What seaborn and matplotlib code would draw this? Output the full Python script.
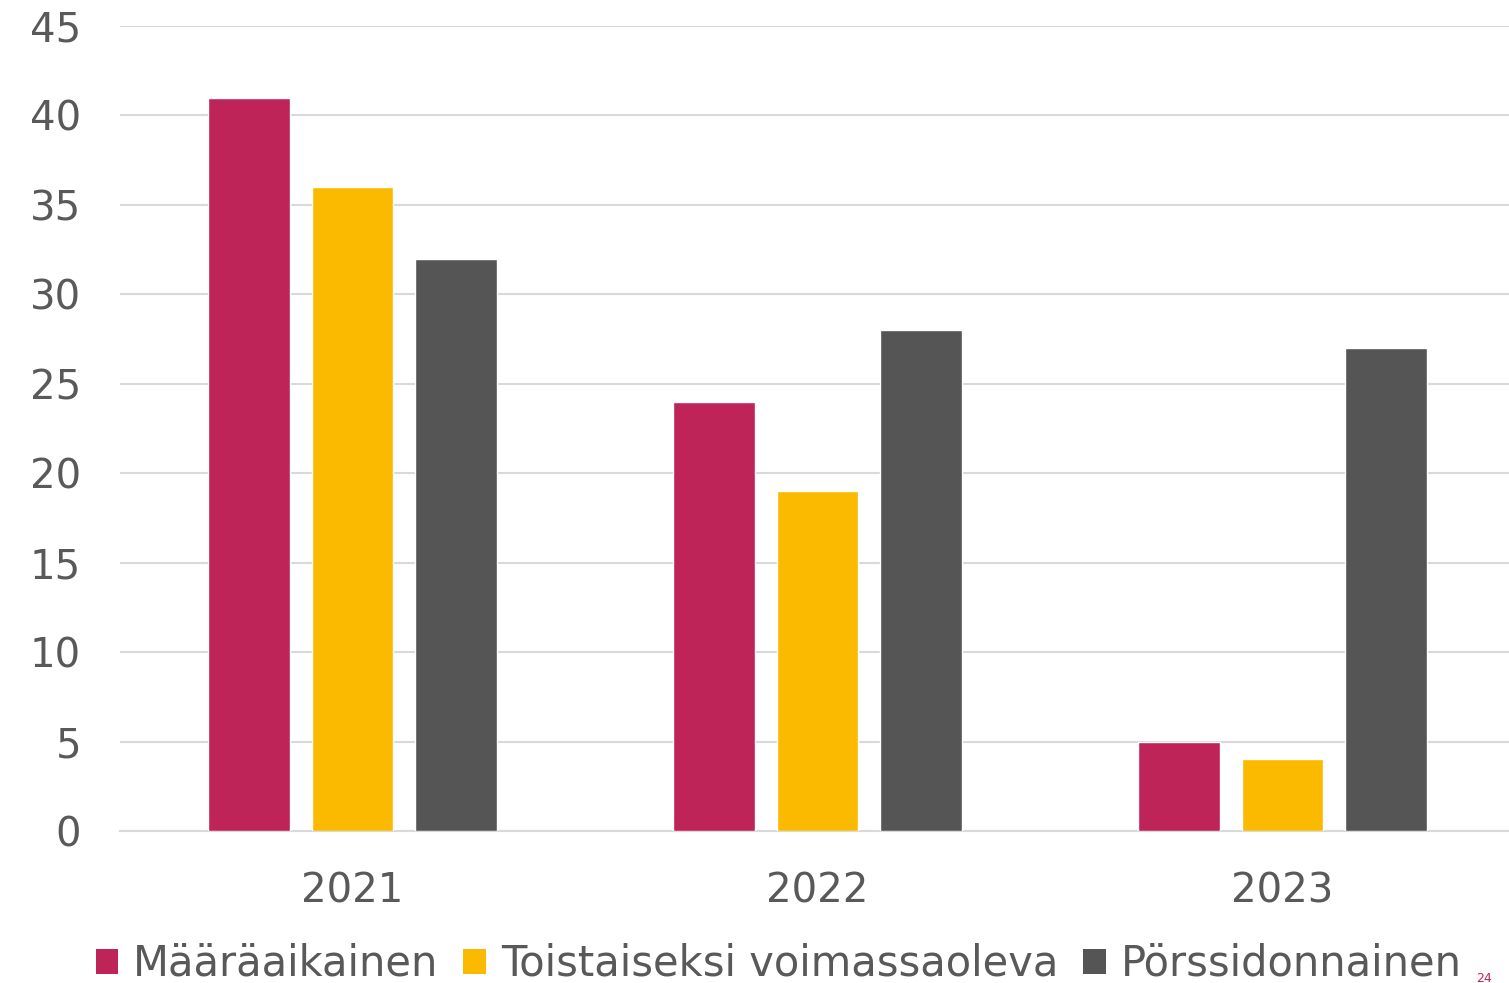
import matplotlib
matplotlib.use('Agg')
import pandas as pd
import seaborn as sns
from matplotlib import pyplot as plt
from matplotlib.patches import Patch

years = ['2021', '2022', '2023']
series = ['Määräaikainen', 'Toistaiseksi voimassaoleva', 'Pörssidonnainen']
maaraaikainen = [41, 24, 5]
toistaiseksi = [36, 19, 4]
porssi = [32, 28, 27]
colors = ['#BE2457', '#FBB900', '#555555']

df = pd.DataFrame({
    'year': years * 3,
    'type': [series[0]] * 3 + [series[1]] * 3 + [series[2]] * 3,
    'value': maaraaikainen + toistaiseksi + porssi,
})

sns.set_style('white')
plt.rcParams['font.family'] = ['DejaVu Sans']
grey = '#595959'

fig = plt.figure(figsize=(15.09, 9.83), dpi=100)
ax = fig.add_axes([120 / 1509, 152 / 983, 1395 / 1509, 805 / 983])

sns.barplot(data=df, x='year', y='value', hue='type', hue_order=series,
            palette=colors, width=0.667, gap=0.21, saturation=1,
            ax=ax, legend=False, zorder=3)

ax.set_ylim(0, 45)
ax.set_xlim(-0.5, 2.5)
ax.set_yticks(range(0, 46, 5))
ax.yaxis.grid(True, color='#d9d9d9', linewidth=1.5, zorder=0)
ax.set_axisbelow(True)
for s in ['top', 'right', 'left']:
    ax.spines[s].set_visible(False)
ax.spines['bottom'].set_color('#d9d9d9')
ax.spines['bottom'].set_linewidth(1.5)
ax.tick_params(axis='y', length=0, pad=28, labelsize=29, labelcolor=grey)
ax.tick_params(axis='x', length=0, pad=29, labelsize=29, labelcolor=grey)
ax.set_xlabel('')
ax.set_ylabel('')

handles = [Patch(facecolor=c, edgecolor='none') for c in colors]
fig.legend(handles, series, loc='lower center', bbox_to_anchor=(0.516, -0.04),
           ncol=3, frameon=False, fontsize=30, labelcolor=grey,
           handlelength=0.55, handleheight=0.55, handletextpad=0.35,
           columnspacing=0.6)

# page number in the corner
fig.text(0.978, 0.001, '24', color='#BE2457', fontsize=9)

fig.savefig('out.png', dpi=100)
plt.close()
